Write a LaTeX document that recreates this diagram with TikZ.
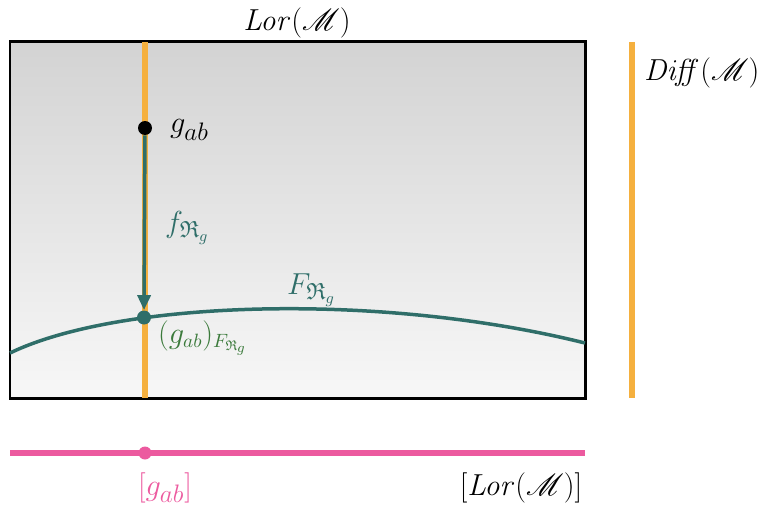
\documentclass[tikz,border=0pt]{standalone}
\usepackage{amssymb}
\usepackage{mathrsfs}
\usepackage{tikz}
\usetikzlibrary{positioning,arrows.meta,calc}
\definecolor{lorange}{HTML}{F5B03E}
\definecolor{lteal}{HTML}{2F6E69}
\definecolor{lgreen}{HTML}{3B7A3B}
\definecolor{lpink}{HTML}{EC5A9F}
\definecolor{ltop}{HTML}{D3D3D3}
\tikzset{
    pt/.style={circle, fill=#1, inner sep=0pt, minimum size=0.28cm},
    fibre/.style={color=lorange, line width=0.12cm},
    orbit/.style={color=lpink, line width=0.12cm},
    flow/.style={color=lteal, line width=0.07cm},
    mlabel/.style={font=\fontsize{19}{23}\selectfont, inner sep=1pt},
}

\begin{document}
\begin{tikzpicture}[x=0.02cm, y=-0.02cm]
    \useasboundingbox (0,0) rectangle (767,517);

    % ── Space of Lorentzian metrics ─────────────────────────────────────────
    \shade[top color=ltop, bottom color=white!97!black] (10,42) rectangle (585,398);
    \draw[line width=0.06cm] (10,42) rectangle (585,398);
    \node[mlabel, inner sep=0pt] (lor) at (297,23) {$\mathit{Lor}(\mathscr{M})$};

    % ── Points ──────────────────────────────────────────────────────────────
    \coordinate (ftop) at (145,42);
    \coordinate (fbot) at (145,398);
    \coordinate (dtop) at (632,42);
    \coordinate (dbot) at (632,398);
    \coordinate (ql) at (10,453);
    \coordinate (qr) at (585,453);
    \coordinate (cl) at (10,353);
    \coordinate (cr) at (585,343);

    % ── Orbit and quotient ──────────────────────────────────────────────────
    \draw[fibre] (ftop) -- (fbot);
    \draw[fibre] (dtop) -- (dbot);
    \draw[orbit] (ql) -- (qr);

    \node[pt=black] (g) at (145,128) {};
    \node[pt=lpink, minimum size=0.26cm] (cls) at (145,453) {};

    % ── Gauge fixing surface ────────────────────────────────────────────────
    \draw[flow] (cl) .. controls (120,300) and (380,292) .. (cr);
    \node[pt=lteal] (gf) at (144,317.5) {};
    \draw[flow, -{Triangle[length=0.3cm, width=0.26cm]}] (g) -- (gf.north);

    % ── Labels ──────────────────────────────────────────────────────────────
    \node[mlabel, anchor=west, font=\fontsize{16.5}{20}\selectfont]
          (diff) at (642,73) {$\mathit{Diff}(\mathscr{M})$};
    \node[mlabel, anchor=west] (glab) at (168,130) {$g_{ab}$};
    \node[mlabel, anchor=west, text=lteal] (flab) at (163,228) {$f_{\mathfrak{R}_g}$};
    \node[mlabel, anchor=west, text=lteal] (Flab) at (285,290) {$F_{\mathfrak{R}_g}$};
    \node[mlabel, anchor=west, text=lgreen, font=\fontsize{16}{19}\selectfont]
          (gflab) at (156,338) {$(g_{ab})_{F_{\mathfrak{R}_g}}$};
    \node[mlabel, text=lpink] (clslab) at (165,488) {$[g_{ab}]$};
    \node[mlabel] (quot) at (521,488) {$[\mathit{Lor}(\mathscr{M})]$};

\end{tikzpicture}
\end{document}
